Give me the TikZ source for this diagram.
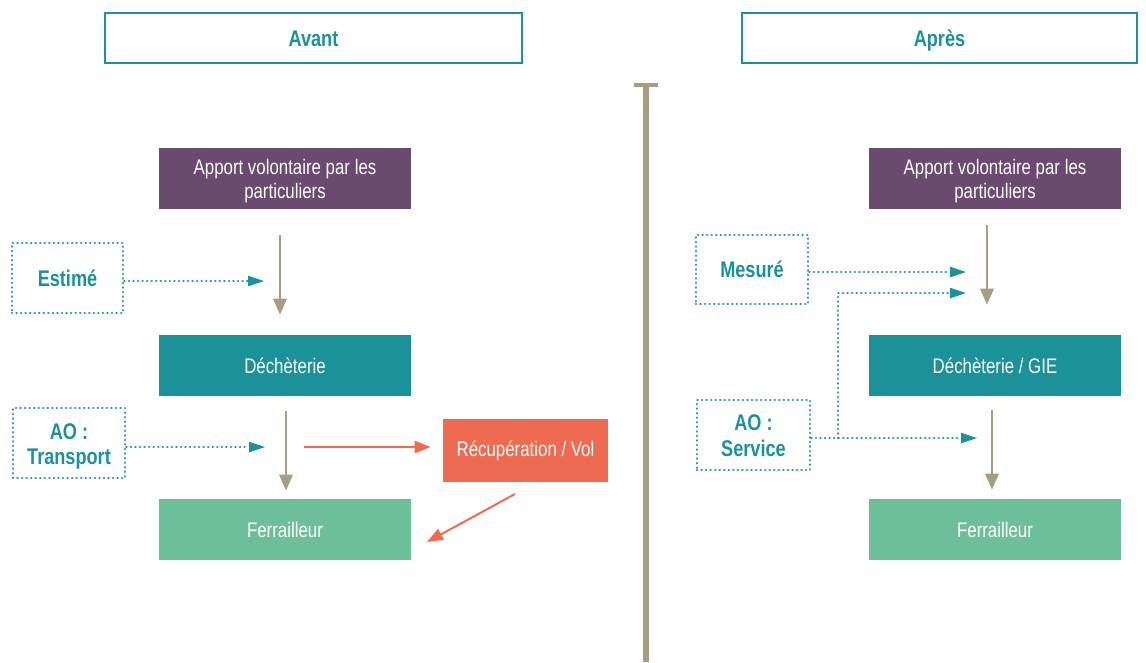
\documentclass[tikz,border=0pt]{standalone}
\usepackage{fontspec}
\setmainfont{Liberation Sans}[FakeStretch=0.80]
\usetikzlibrary{arrows.meta,calc}
\definecolor{teal}{HTML}{1B9199}
\definecolor{taupe}{HTML}{A69E83}
\definecolor{plum}{HTML}{6A4A6F}
\definecolor{coral}{HTML}{EE6A51}
\definecolor{mint}{HTML}{6DBF99}
\newcommand{\topstrut}{\rule{0pt}{16pt}}
\tikzset{
  px/.style={x=0.75pt,y=-0.75pt},
  block/.style={rectangle,inner sep=0pt,align=center,text=white,
    font=\fontsize{15.8}{18}\selectfont,minimum width=189pt,minimum height=45.75pt},
  header/.style={rectangle,draw=teal,line width=1.6pt,fill=white,inner sep=0pt,
    text=teal,font=\fontsize{17}{18}\selectfont\bfseries,minimum height=37.5pt,
    text height=12.2pt,text depth=0pt},
  tag/.style={rectangle,draw=teal,line width=2.1pt,dash pattern=on 0.01pt off 3.4pt,
    line cap=round,inner sep=0pt,align=center,text=teal,
    font=\fontsize{17}{19}\selectfont\bfseries,minimum height=52.5pt},
  flow/.style={draw=taupe,line width=1.7pt,-{Triangle[length=12pt,width=10pt]}},
  dotflow/.style={draw=teal,line width=2.1pt,dash pattern=on 0.01pt off 3.4pt,line cap=round,
    -{Triangle[length=12pt,width=8pt,fill=teal,line width=0pt]}},
  leak/.style={draw=coral,line width=1.5pt,-{Triangle[length=12pt,width=9pt]}},
}
\begin{document}
\begin{tikzpicture}[px]
\useasboundingbox (0,0) rectangle (1146,662);

% headers
\node[header,minimum width=312.75pt] (avant) at (313.5,38) {Avant};
\node[header,minimum width=296.25pt] (apres) at (939.5,38) {Après};

% divider
\coordinate (divtop) at (646,85);
\coordinate (divbot) at (646,662);
\draw[taupe,line width=3.8pt] (divtop) -- (divbot);
\draw[taupe,line width=3pt] ([xshift=-9pt]divtop) -- ([xshift=9pt]divtop);

% ----- before -----
\node[block,fill=plum] (appL) at (285,178.5) {\topstrut Apport volontaire par les\\particuliers};
\node[block,fill=teal] (decL) at (285,365.5) {Déchèterie};
\node[block,fill=mint] (ferL) at (285,529.5) {Ferrailleur};
\node[block,fill=coral,minimum width=123.75pt,minimum height=47.25pt] (rec) at (525.5,450.5) {Récupération / Vol};

\node[tag,minimum width=83.25pt] (est) at (67.5,278) {Estimé};
\node[tag,minimum width=84pt] (trans) at (69,443) {\rule{0pt}{17pt}AO :\\Transport};

\draw[flow,shorten <=19.5pt,shorten >=15pt] ([xshift=-3.75pt]appL.south) -- ([xshift=-3.75pt]decL.north);
\draw[flow,shorten <=11pt,shorten >=6pt] ([xshift=0.75pt]decL.south) -- ([xshift=0.75pt]ferL.north);

\coordinate (estTip) at (264,281);
\coordinate (transTip) at (265,447);
\draw[dotflow] (est.east|-estTip) -- (estTip);
\draw[dotflow] (trans.east|-transTip) -- (transTip);

\coordinate (leakStart) at (304,447);
\draw[leak] (leakStart) -- ([xshift=-9pt]rec.west|-leakStart);
\coordinate (backStart) at (515,494);
\coordinate (backTip) at (427,542);
\draw[leak] (backStart) -- (backTip);

% ----- after -----
\node[block,fill=plum] (appR) at (995,178.5) {\topstrut Apport volontaire par les\\particuliers};
\node[block,fill=teal] (decR) at (995,365.5) {Déchèterie / GIE};
\node[block,fill=mint] (ferR) at (995,529.5) {Ferrailleur};

\node[tag,minimum width=84pt,minimum height=51.75pt] (mes) at (752,269.5) {Mesuré};
\node[tag,minimum width=84.75pt] (serv) at (753.5,435) {\rule{0pt}{13pt}AO :\\Service};

\draw[flow,shorten <=12pt,shorten >=22.5pt] ([xshift=-6pt]appR.south) -- ([xshift=-6pt]decR.north);
\draw[flow,shorten <=10.5pt,shorten >=6.75pt] ([xshift=-2.25pt]decR.south) -- ([xshift=-2.25pt]ferR.north);

\coordinate (mesTip) at (966,272);
\coordinate (servTip) at (977,438);
\coordinate (bend) at (838,438);
\coordinate (loopTip) at (966,293);
\draw[dotflow] (mes.east|-mesTip) -- (mesTip);
\draw[dotflow] (serv.east|-servTip) -- (servTip);
\draw[dotflow] (bend) -- (bend|-loopTip) -- (loopTip);

\end{tikzpicture}
\end{document}
